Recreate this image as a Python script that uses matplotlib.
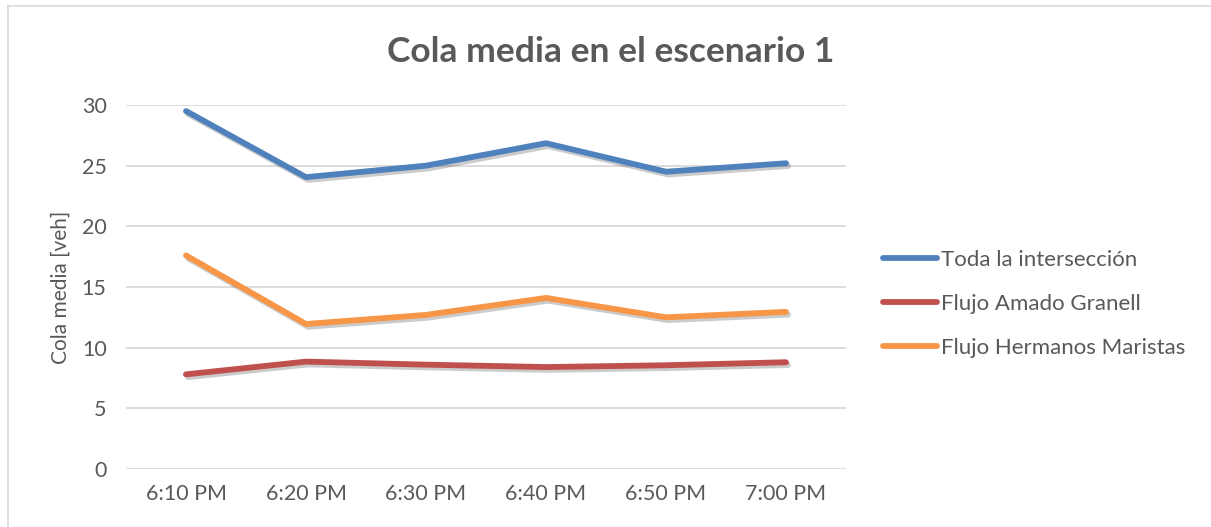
import matplotlib.pyplot as plt
import matplotlib.patheffects as pe
from matplotlib.lines import Line2D

plt.rcParams['font.family'] = ['Lato', 'DejaVu Sans']

horas = ["6:10 PM", "6:20 PM", "6:30 PM", "6:40 PM", "6:50 PM", "7:00 PM"]
toda = [29.5, 24.05, 25.0, 26.85, 24.5, 25.2]
amado = [7.8, 8.85, 8.6, 8.4, 8.55, 8.8]
maristas = [17.6, 11.95, 12.7, 14.1, 12.5, 12.95]

series = [
    ("Toda la intersección", toda, "#4F81BD"),
    ("Flujo Amado Granell", amado, "#C0504D"),
    ("Flujo Hermanos Maristas", maristas, "#F79646"),
]

gris = "#595959"
fig = plt.figure(figsize=(12.11, 5.27), dpi=100)
ax = fig.add_axes([126 / 1211, 1 - 469 / 527, 720 / 1211, 364 / 527])

x = list(range(len(horas)))
sombra = [pe.SimpleLineShadow(offset=(1.5, -2), alpha=0.25, shadow_color="#303030"), pe.Normal()]
for nombre, vals, color in series:
    ax.plot(x, vals, color=color, lw=4.2, solid_capstyle="round", solid_joinstyle="round",
            label=nombre, path_effects=sombra, zorder=3)

ax.set_xlim(-0.5, len(horas) - 0.5)
ax.set_ylim(0, 30)
ax.set_yticks(range(0, 31, 5))
ax.set_xticks(x)
ax.set_xticklabels(horas)
ax.yaxis.grid(True, color="#D9D9D9", lw=1.3)
ax.set_axisbelow(True)
for s in ax.spines.values():
    s.set_visible(False)
ax.tick_params(length=0, colors=gris, labelsize=15.5, pad=14)
ax.tick_params(axis="x", pad=11)
ax.set_ylabel("Cola media [veh]", color=gris, fontsize=15, labelpad=8)

fig.text(611 / 1211, 1 - 52 / 527, "Cola media en el escenario 1", ha="center", va="center",
         fontsize=25.5, fontweight="bold", color=gris)

handles = [Line2D([], [], color=c, lw=4.2, solid_capstyle="round") for _, _, c in series]
leg = fig.legend(handles, [n for n, _, _ in series], loc="center left",
                 bbox_to_anchor=(883 / 1211, 1 - 304 / 527), frameon=False, fontsize=16,
                 handlelength=2.45, handletextpad=0.15, labelspacing=1.08, borderaxespad=0,
                 borderpad=0)
for t in leg.get_texts():
    t.set_color(gris)

# borde del área del gráfico
fig.add_artist(Line2D([8 / 1211, 1], [1 - 6 / 527] * 2, color="#D9D9D9", lw=1.2))
fig.add_artist(Line2D([8 / 1211] * 2, [0, 1 - 6 / 527], color="#D9D9D9", lw=1.2))

fig.savefig("out.png", dpi=100)
